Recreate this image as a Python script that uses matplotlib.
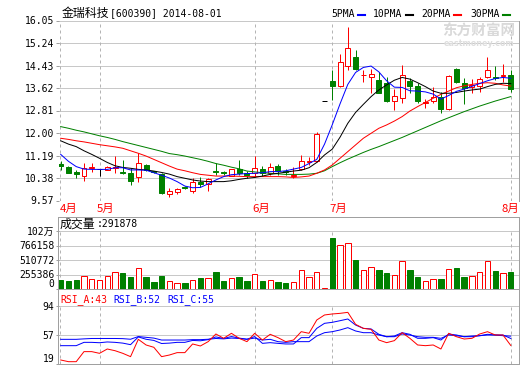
import matplotlib
matplotlib.use('Agg')
import matplotlib.pyplot as plt
from matplotlib.lines import Line2D
import numpy as np

plt.rcParams['font.family'] = ['DejaVu Sans Mono', 'Noto Sans CJK SC']
plt.rcParams['font.size'] = 7

# ---- data, one value per trading day ----
open_ = np.array([10.87, 10.77, 10.58, 10.46, 10.73, 10.69, 10.68, 10.74, 10.61, 10.57,
                  10.40, 10.85, 10.63, 10.52, 9.80, 9.89, 10.05, 9.90, 10.25, 10.17,
                  10.64, 10.58, 10.46, 10.70, 10.57, 10.55, 10.69, 10.57, 10.81, 10.63,
                  10.45, 10.70, 10.96, 10.98, 13.15, 13.87, 13.70, 14.41, 14.72, 14.08,
                  14.03, 13.91, 13.79, 13.15, 13.25, 13.87, 13.70, 13.09, 13.16, 13.28,
                  12.85, 14.30, 13.79, 13.67, 13.69, 14.01, 14.03, 14.05, 14.09])
high = np.array([11.00, 10.80, 10.67, 10.91, 10.93, 10.70, 10.82, 11.17, 11.02, 10.73,
                 11.28, 10.90, 10.65, 10.55, 10.01, 10.03, 10.08, 10.37, 10.40, 10.37,
                 10.91, 10.62, 10.72, 11.03, 10.62, 11.18, 10.80, 10.91, 10.90, 10.70,
                 10.78, 11.21, 11.15, 12.02, 13.15, 14.27, 14.83, 15.83, 15.00, 14.27,
                 14.30, 14.20, 14.00, 13.58, 14.45, 13.97, 13.79, 13.22, 13.67, 13.49,
                 14.08, 14.33, 13.97, 13.94, 14.03, 14.72, 14.42, 14.47, 14.27])
low = np.array([10.67, 10.55, 10.37, 10.27, 10.60, 10.45, 10.66, 10.55, 10.52, 10.13,
                10.25, 10.62, 10.55, 9.82, 9.69, 9.82, 9.97, 9.85, 10.05, 9.92,
                10.49, 10.50, 10.44, 10.49, 10.38, 10.43, 10.45, 10.49, 10.50, 10.50,
                10.37, 10.67, 10.85, 10.97, 13.15, 13.19, 13.67, 14.27, 14.27, 13.85,
                13.43, 13.43, 13.12, 12.83, 13.07, 13.43, 13.07, 12.89, 13.07, 12.71,
                12.83, 13.79, 13.03, 13.43, 13.47, 13.97, 13.91, 13.85, 13.49])
close = np.array([10.80, 10.57, 10.54, 10.75, 10.76, 10.69, 10.76, 10.79, 10.56, 10.28,
                  10.91, 10.68, 10.59, 9.85, 9.91, 9.97, 10.02, 10.23, 10.17, 10.33,
                  10.61, 10.55, 10.69, 10.55, 10.50, 10.75, 10.55, 10.79, 10.63, 10.58,
                  10.50, 11.00, 10.98, 11.96, 13.15, 13.70, 14.55, 15.05, 14.30, 14.10,
                  14.11, 13.45, 13.16, 13.33, 14.09, 13.70, 13.16, 13.11, 13.28, 12.85,
                  14.05, 13.85, 13.63, 13.73, 13.94, 14.27, 13.99, 14.09, 13.58])
ma5 = [11.23, 10.98, 10.79, 10.70, 10.69, 10.69, 10.69, 10.75, 10.75, 10.67,
       10.67, 10.66, 10.57, 10.48, 10.38, 10.25, 10.09, 10.03, 10.04, 10.17,
       10.31, 10.43, 10.50, 10.52, 10.54, 10.55, 10.57, 10.61, 10.61, 10.64,
       10.70, 10.76, 10.90, 11.05, 11.60, 12.30, 13.05, 13.75, 14.18, 14.36,
       14.41, 14.20, 13.88, 13.65, 13.64, 13.52, 13.51, 13.48, 13.40, 13.22,
       13.35, 13.50, 13.58, 13.68, 13.78, 13.88, 13.96, 14.00, 13.97]
ma10 = [11.72, 11.60, 11.51, 11.36, 11.23, 11.09, 10.94, 10.82, 10.76, 10.73,
        10.69, 10.67, 10.63, 10.58, 10.52, 10.43, 10.37, 10.31, 10.27, 10.25,
        10.25, 10.25, 10.28, 10.33, 10.37, 10.40, 10.45, 10.51, 10.55, 10.59,
        10.63, 10.66, 10.75, 10.94, 11.21, 11.42, 11.85, 12.35, 12.74, 13.03,
        13.31, 13.55, 13.73, 13.90, 14.00, 13.94, 13.81, 13.67, 13.51, 13.43,
        13.43, 13.46, 13.51, 13.55, 13.58, 13.67, 13.75, 13.79, 13.78]
ma20 = [11.81, 11.77, 11.72, 11.68, 11.63, 11.58, 11.54, 11.50, 11.45, 11.36,
        11.27, 11.17, 11.05, 10.93, 10.81, 10.70, 10.64, 10.57, 10.51, 10.48,
        10.45, 10.45, 10.45, 10.44, 10.43, 10.43, 10.43, 10.43, 10.43, 10.42,
        10.40, 10.42, 10.45, 10.55, 10.67, 10.85, 11.09, 11.33, 11.57, 11.81,
        11.99, 12.17, 12.29, 12.43, 12.59, 12.79, 12.95, 13.10, 13.25, 13.39,
        13.51, 13.63, 13.70, 13.75, 13.79, 13.81, 13.79, 13.73, 13.69]
ma30 = [12.23, 12.17, 12.10, 12.04, 11.97, 11.90, 11.84, 11.77, 11.69, 11.62,
        11.55, 11.48, 11.41, 11.34, 11.26, 11.22, 11.17, 11.11, 11.05, 10.98,
        10.90, 10.84, 10.77, 10.71, 10.63, 10.60, 10.57, 10.55, 10.53, 10.51,
        10.51, 10.51, 10.52, 10.55, 10.64, 10.79, 10.93, 11.06, 11.18, 11.30,
        11.41, 11.51, 11.62, 11.73, 11.84, 11.96, 12.08, 12.20, 12.32, 12.44,
        12.55, 12.66, 12.77, 12.87, 12.97, 13.06, 13.15, 13.23, 13.31]
volume = [159000, 141000, 159000, 229000, 176000, 159000, 229000, 294000, 276000, 211000,
          364000, 217000, 123000, 229000, 141000, 100000, 106000, 153000, 194000, 188000,
          299000, 141000, 188000, 211000, 141000, 258000, 141000, 153000, 123000, 106000,
          117000, 329000, 211000, 294000, 23000, 898000, 769000, 805000, 511000, 329000,
          382000, 335000, 282000, 241000, 488000, 335000, 211000, 135000, 170000, 176000,
          347000, 370000, 211000, 223000, 294000, 488000, 317000, 276000, 291878]
rsi_a = [24.2, 22.0, 22.0, 35.0, 35.0, 32.8, 38.4, 36.2, 32.8, 28.5,
         50.9, 43.6, 40.6, 28.5, 30.6, 33.7, 33.7, 44.9, 42.3, 47.9,
         57.8, 52.2, 58.7, 52.2, 47.9, 58.7, 50.0, 57.4, 53.1, 47.9,
         50.0, 60.8, 58.7, 75.9, 82.4, 83.7, 84.5, 85.8, 70.3, 65.1,
         63.8, 50.0, 46.6, 49.2, 59.5, 52.2, 43.6, 42.7, 43.6, 38.4,
         58.7, 54.3, 51.3, 52.2, 57.8, 60.8, 56.5, 56.5, 43.0]
rsi_b = [42.7, 42.7, 42.7, 47.0, 47.0, 46.5, 47.5, 47.0, 46.0, 44.0,
         54.0, 51.0, 49.5, 45.5, 46.0, 47.0, 47.0, 49.5, 49.0, 50.5,
         54.0, 52.0, 54.5, 52.5, 51.0, 54.5, 45.7, 46.6, 45.7, 44.9,
         44.9, 53.1, 53.1, 65.1, 71.6, 72.9, 75.0, 77.2, 69.4, 65.1,
         64.3, 57.4, 54.3, 55.2, 59.5, 57.4, 52.2, 52.2, 53.1, 50.0,
         57.8, 56.5, 54.3, 54.3, 55.6, 57.4, 56.5, 56.5, 52.0]
rsi_c = [50.9, 50.9, 50.9, 51.5, 52.0, 52.0, 52.0, 52.0, 51.8, 51.0,
         54.5, 53.5, 52.5, 50.0, 50.0, 50.0, 50.0, 50.5, 50.5, 51.0,
         52.0, 51.5, 52.5, 52.0, 51.0, 52.5, 50.0, 50.9, 47.9, 47.0,
         47.9, 47.9, 47.9, 55.2, 59.5, 60.8, 63.0, 66.0, 61.7, 59.5,
         59.5, 56.5, 54.3, 54.3, 57.8, 56.5, 54.3, 53.5, 53.5, 52.2,
         56.5, 55.6, 54.3, 55.2, 55.6, 56.5, 56.5, 55.6, 55.0]
price_ticks = [9.57, 10.38, 11.19, 12.00, 12.81, 13.62, 14.43, 15.24, 16.05]
vol_ticks = [0, 255386, 510772, 766158, 1021544]
vol_labels = ['0', '255386', '510772', '766158', '102万']
rsi_ticks = [19, 57, 94]
month_names = ['4月', '5月', '6月', '7月', '8月']
month_start = [-0.12, 5, 25, 35, 58]

# ---- layout helpers (pixel coords, origin top-left) ----
W, H = 520, 365
RED, GREEN, BLUE = '#ff0000', '#008000', '#0000ff'
GRID, FRAME, DASH = '#c8c8c8', '#a0a0a0', '#b4b4b4'
LW = 0.72
XLIM = (-0.22, 59.1)


def box(x0, y0, x1, y1):
    return [x0 / W, 1 - y1 / H, (x1 - x0) / W, (y1 - y0) / H]


def fp(x, y):
    return x / W, 1 - y / H


def style(ax, ticks, labels):
    ax.set_xlim(XLIM)
    ax.set_xticks([])
    ax.set_yticks(ticks)
    ax.set_yticklabels(labels)
    ax.tick_params(axis='y', length=2, width=LW, color=FRAME, pad=1.5, labelsize=7)
    for s in ax.spines.values():
        s.set_visible(False)
    for t in ticks:
        ax.axhline(t, color=GRID, lw=LW, zorder=1)
    for m in month_start:
        ax.axvline(m, color=DASH, lw=LW, ls=(0, (3, 3)), zorder=1)
    ax.patch.set_visible(False)


idx = np.arange(len(close))
up = close > open_
down = close < open_
ccol = np.where(up, RED, np.where(down, GREEN, 'black'))
cface = np.where(up, 'white', ccol)

fig = plt.figure(figsize=(W / 100, H / 100), dpi=100)
fig.patch.set_facecolor('white')

# ---- price panel ----
ax = fig.add_axes(box(59, 20.5, 519.3, 200.5))
style(ax, price_ticks, ['%.2f' % t for t in price_ticks])
ax.set_ylim(price_ticks[0], price_ticks[-1])
ax.spines['right'].set_visible(True)
ax.spines['right'].set_color(FRAME)
ax.spines['right'].set_linewidth(LW)
ax.vlines(idx, low, high, colors=ccol, lw=LW, zorder=3)
lo = np.minimum(open_, close)
ax.bar(idx, np.maximum(open_, close) - lo, bottom=lo, width=0.64,
       color=cface, edgecolor=ccol, lw=LW, zorder=4)
for ma, c in [(ma30, GREEN), (ma20, RED), (ma10, 'black'), (ma5, BLUE)]:
    ax.plot(idx, ma, color=c, lw=LW, zorder=5)

for name, m in zip(month_names, month_start):
    x = 60 + (m - month_start[0]) * 7.76 - (3 if m > 0 else 0)
    x = min(x, 502)
    fig.text(*fp(x, 208.5), name, color=RED, fontsize=8.2,
             family='Noto Sans CJK SC', va='center', ha='left')

# title and legend
fig.text(*fp(61.5, 13.5), '金瑞科技', fontsize=8.6, family='Noto Sans CJK SC', va='center')
fig.text(*fp(110, 13.5), '[600390] 2014-08-01', fontsize=7, va='center')
for label, lx, c in [('5PMA', 331, BLUE), ('10PMA', 373, 'black'),
                     ('20PMA', 421.5, RED), ('30PMA', 470, GREEN)]:
    fig.text(*fp(lx, 14), label, fontsize=7, va='center')
    dx = lx + len(label) * 5.9 + 3
    fig.add_artist(Line2D([dx / W, (dx + 7) / W], [1 - 14.5 / H] * 2,
                          color=c, lw=1.5, transform=fig.transFigure))

# watermark
fig.text(*fp(442, 31), '东方财富网', fontsize=10.5, family='Noto Sans CJK SC',
         weight='bold', color='#d9d9d9', va='center')
fig.text(*fp(444, 43), 'eastmoney.com', fontsize=5.8, family='DejaVu Sans',
         weight='bold', color='#dedede', va='center')

# ---- volume panel ----
frame = fig.add_axes(box(58.3, 216.7, 519.3, 289))
frame.set_xticks([]); frame.set_yticks([])
for s in frame.spines.values():
    s.set_color(FRAME); s.set_linewidth(LW)
axv = fig.add_axes(box(59, 231, 519.3, 289))
style(axv, vol_ticks, vol_labels)
axv.set_ylim(0, vol_ticks[-1])
vcol = np.where(close >= open_, RED, GREEN)
axv.bar(idx, volume, width=0.7, color=np.where(close >= open_, 'white', GREEN),
        edgecolor=vcol, lw=LW, zorder=3)
axv.get_yticklabels()[0].set_verticalalignment('bottom')
fig.text(*fp(60, 224), '成交量', fontsize=8.6, family='Noto Sans CJK SC', va='center')
fig.text(*fp(96.5, 224), ':%d' % volume[-1], fontsize=7, va='center')

# ---- RSI panel ----
frame2 = fig.add_axes(box(58.3, 289, 519.3, 364))
frame2.set_xticks([]); frame2.set_yticks([])
for s in frame2.spines.values():
    s.set_color(FRAME); s.set_linewidth(LW)
axr = fig.add_axes(box(59, 306, 519.3, 364))
style(axr, rsi_ticks, [str(t) for t in rsi_ticks])
axr.set_ylim(rsi_ticks[0], rsi_ticks[-1])
axr.plot(idx, rsi_c, color=BLUE, lw=LW, zorder=3)
axr.plot(idx, rsi_b, color=BLUE, lw=LW, zorder=3)
axr.plot(idx, rsi_a, color=RED, lw=LW, zorder=4)
axr.get_yticklabels()[0].set_verticalalignment('bottom')
for label, lx, c, v in [('RSI_A', 60, RED, rsi_a[-1]), ('RSI_B', 113, BLUE, rsi_b[-1]),
                        ('RSI_C', 167, BLUE, rsi_c[-1])]:
    fig.text(*fp(lx, 300), '%s:%d' % (label, round(v)), fontsize=7, color=c, va='center')

fig.savefig('out.png', dpi=100)
